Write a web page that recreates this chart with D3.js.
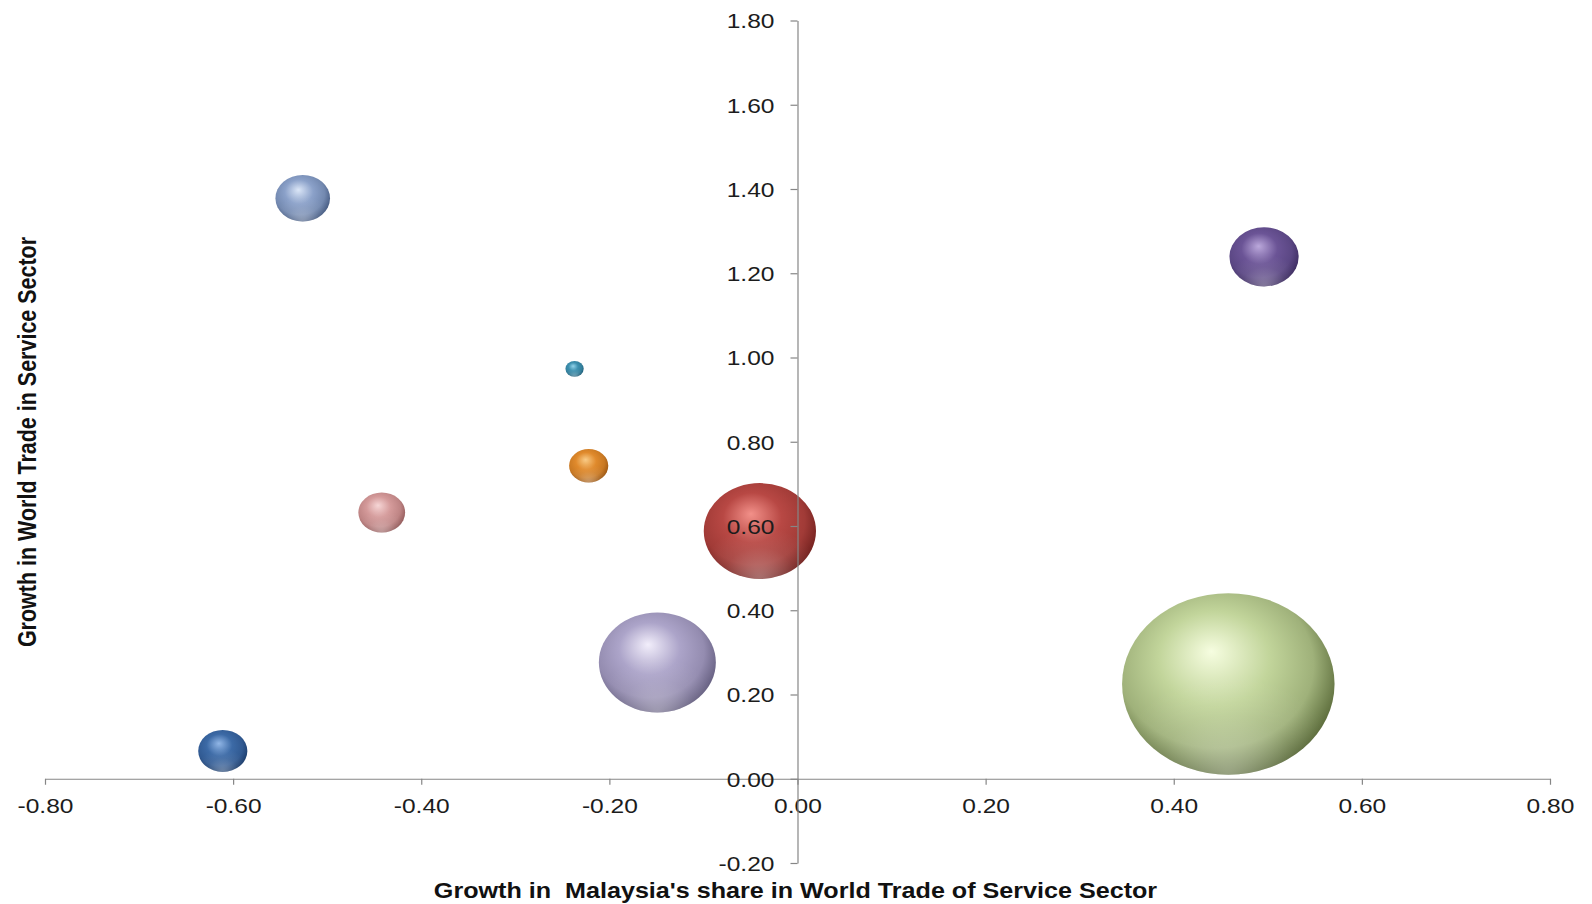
<!DOCTYPE html>
<html>
<head>
<meta charset="utf-8">
<script src="https://cdn.jsdelivr.net/npm/d3@7"></script>
<style>
  html, body { margin: 0; padding: 0; background: #ffffff; }
  svg { display: block; }
  text { font-family: "Liberation Sans", Arial, sans-serif; }
</style>
</head>
<body>
<svg id="chart" width="1592" height="904"></svg>
<script>
// Growth in Malaysia's share in world services trade (x) against
// growth in world trade in that service sector (y); bubble size = sector weight.
const shareGrowth = [-0.526, 0.496, -0.237, -0.222, -0.442, -0.040, -0.149, 0.458, -0.611];
const worldGrowth = [1.378, 1.239, 0.973, 0.743, 0.632, 0.588, 0.276, 0.225, 0.066];
const bubbleSize  = [6.6, 10.6, 0.74, 3.4, 4.85, 27.9, 30.3, 100, 5.35];

const xTicks = [-0.8, -0.6, -0.4, -0.2, 0, 0.2, 0.4, 0.6, 0.8];
const yTicks = [-0.2, 0, 0.2, 0.4, 0.6, 0.8, 1.0, 1.2, 1.4, 1.6, 1.8];

const xTitle = "Growth in  Malaysia's share in World Trade of Service Sector";
const yTitle = "Growth in World Trade in Service Sector";

// [highlight, body, rim] shades for each bubble
const palette = [
  ["#dbe6f7", "#8ba1c9", "#3b5077"],
  ["#bba8db", "#6b5496", "#37275a"],
  ["#93d3ea", "#3d90af", "#1b5670"],
  ["#f9cb86", "#e08a2c", "#94500e"],
  ["#f6d6d6", "#d49a9a", "#8a5252"],
  ["#f29089", "#b84844", "#6a1c1a"],
  ["#f2eefb", "#aca4c9", "#5b5576"],
  ["#f6fde0", "#c2d59b", "#4c5c2c"],
  ["#91b6e6", "#3c6aa6", "#163664"]
];

const SX = 1.17;              // horizontal stretch of the whole drawing

const svg = d3.select("#chart");

const x = d3.scaleLinear().domain([-0.8, 0.8]).range([45, 1550]);
const y = d3.scaleLinear().domain([-0.2, 1.8]).range([863, 20.5]);
const r = d3.scaleSqrt().domain([0, 100]).range([0, 90.8]);

const data = shareGrowth.map((v, i) => ({
  x: v, y: worldGrowth[i], size: bubbleSize[i], col: palette[i], i
}));

// gradients for the shaded 3-D bubbles
const defs = svg.append("defs");
data.forEach(d => {
  const g = defs.append("radialGradient")
    .attr("id", "bub" + d.i)
    .attr("cx", 0.45).attr("cy", 0.42).attr("r", 0.62)
    .attr("fx", 0.42).attr("fy", 0.32);
  g.append("stop").attr("offset", 0).attr("stop-color", d.col[0]);
  g.append("stop").attr("offset", 0.42).attr("stop-color", d.col[1]);
  g.append("stop").attr("offset", 0.74).attr("stop-color", d3.interpolateRgb(d.col[1], d.col[2])(0.3));
  g.append("stop").attr("offset", 1).attr("stop-color", d.col[2]);
});
const refl = defs.append("radialGradient")
  .attr("id", "reflect").attr("cx", 0.5).attr("cy", 1.0).attr("r", 0.55);
refl.append("stop").attr("offset", 0).attr("stop-color", "#ffffff").attr("stop-opacity", 0.35);
refl.append("stop").attr("offset", 0.6).attr("stop-color", "#ffffff").attr("stop-opacity", 0.08);
refl.append("stop").attr("offset", 1).attr("stop-color", "#ffffff").attr("stop-opacity", 0);

// bubbles
const bubbles = svg.append("g").attr("class", "bubbles")
  .selectAll("g").data(data.slice().sort((a, b) => b.size - a.size)).join("g");
bubbles.append("ellipse")
  .attr("cx", d => x(d.x)).attr("cy", d => y(d.y))
  .attr("rx", d => r(d.size) * SX).attr("ry", d => r(d.size))
  .attr("fill", d => `url(#bub${d.i})`);
bubbles.append("ellipse")
  .attr("cx", d => x(d.x)).attr("cy", d => y(d.y))
  .attr("rx", d => r(d.size) * SX).attr("ry", d => r(d.size))
  .attr("fill", "url(#reflect)");

const fmt = v => v.toFixed(2);
const axisColor = "#868686";
const textColor = "#1c1c1c";

// horizontal axis through y = 0
const gx = svg.append("g")
  .attr("transform", `translate(0,${y(0)})`)
  .call(d3.axisBottom(x).tickValues(xTicks).tickFormat(fmt).tickSize(6).tickSizeOuter(0));
// vertical axis through x = 0
const gy = svg.append("g")
  .attr("transform", `translate(${x(0)},0)`)
  .call(d3.axisLeft(y).tickValues(yTicks).tickFormat(fmt).tickSize(7).tickSizeOuter(0));

[gx, gy].forEach(g => {
  g.select(".domain").attr("stroke", axisColor).attr("stroke-width", 1.2);
  g.selectAll(".tick line").attr("stroke", axisColor).attr("stroke-width", 1.2);
  g.selectAll(".tick text")
    .attr("fill", textColor)
    .style("font-size", "21px")
    .style("font-family", '"Liberation Sans", Arial, sans-serif');
});
gx.selectAll(".tick text")
  .attr("y", 34).attr("dy", 0).attr("x", 0)
  .attr("transform", `scale(${SX},1)`);
gy.selectAll(".tick text")
  .attr("x", -23 / SX).attr("dy", "0.35em")
  .attr("transform", `scale(${SX},1)`);

// axis titles
svg.append("text")
  .attr("transform", `translate(${x(0) - 2},898) scale(${SX},1)`)
  .attr("text-anchor", "middle")
  .style("font-size", "21.5px").style("font-weight", "bold")
  .attr("fill", "#111")
  .style("white-space", "pre")
  .text(xTitle);

svg.append("text")
  .attr("transform", `translate(36,442) scale(${SX},1) rotate(-90)`)
  .attr("text-anchor", "middle")
  .style("font-size", "21.5px").style("font-weight", "bold")
  .attr("fill", "#111")
  .text(yTitle);
</script>
</body>
</html>
